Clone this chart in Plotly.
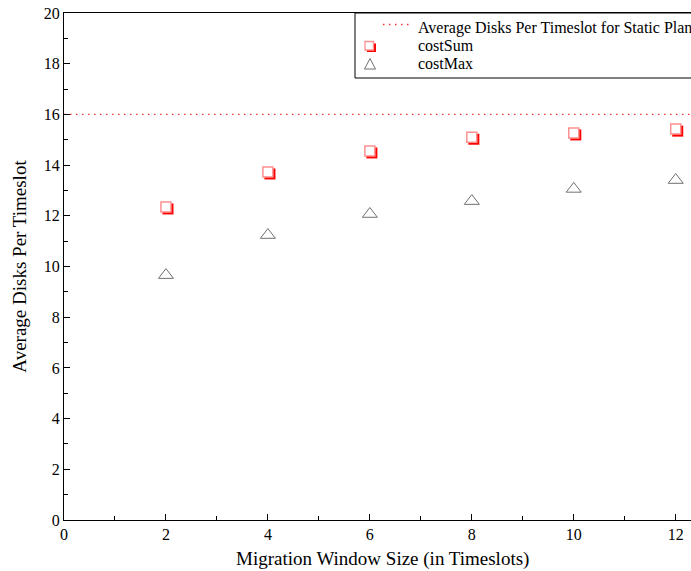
import plotly.graph_objects as go

window_sizes = [2, 4, 6, 8, 10, 12]
cost_sum = [12.35, 13.73, 14.56, 15.10, 15.27, 15.42]
cost_max = [9.66, 11.24, 12.07, 12.58, 13.06, 13.41]
static_plan = 16.0

series_names = ["Average Disks Per Timeslot for Static Plan", "costSum", "costMax"]

x_max = 12.3
font_family = "Liberation Serif"
dot_dash = "1.5px,4.5px"

W, H = 691, 571
M_L, M_R, M_T, M_B = 64, 0, 13, 51
PW, PH = W - M_L - M_R, H - M_T - M_B

# small offsets for the drop-shadow under each square marker (data units)
dx = 0.04
dy = 0.08


def px(x):
    """Horizontal pixel -> paper coordinate."""
    return (x - M_L) / PW


def py(y):
    """Vertical pixel (from top) -> paper coordinate."""
    return (H - M_B - y) / PH


fig = go.Figure()

fig.add_trace(go.Scatter(
    x=[0, x_max], y=[static_plan, static_plan], mode="lines",
    line=dict(color="#ff3030", width=1.3, dash=dot_dash),
    name=series_names[0], hoverinfo="skip",
))

# red shadow behind the costSum squares
fig.add_trace(go.Scatter(
    x=[v + dx for v in window_sizes], y=[v - dy for v in cost_sum], mode="markers",
    marker=dict(symbol="square", size=11, color="#ff0000", line=dict(width=0)),
    hoverinfo="skip",
))
fig.add_trace(go.Scatter(
    x=window_sizes, y=cost_sum, mode="markers",
    marker=dict(symbol="square", size=10, color="white",
                line=dict(color="#ff9090", width=1.5)),
    name=series_names[1],
))
fig.add_trace(go.Scatter(
    x=window_sizes, y=cost_max, mode="markers",
    marker=dict(symbol="triangle-up-open", size=13, color="#707070",
                line=dict(width=1)),
    name=series_names[2],
))

# legend box, drawn by hand so its rows sit tightly together
shapes = [
    dict(type="rect", xref="paper", yref="paper",
         x0=px(355), x1=px(W + 20), y0=py(78), y1=py(M_T),
         line=dict(color="black", width=1), fillcolor="white", layer="above"),
    dict(type="line", xref="paper", yref="paper",
         x0=px(383), x1=px(411), y0=py(24.5), y1=py(24.5),
         line=dict(color="#ff3030", width=1.3, dash=dot_dash), layer="above"),
    dict(type="rect", xref="paper", yref="paper",
         x0=px(367), x1=px(376), y0=py(52), y1=py(43.5),
         line=dict(width=0), fillcolor="#ff0000", layer="above"),
    dict(type="rect", xref="paper", yref="paper",
         x0=px(365), x1=px(373.5), y0=py(50), y1=py(41.5),
         line=dict(color="#ff9090", width=1.3), fillcolor="white", layer="above"),
    dict(type="path", xref="paper", yref="paper",
         path=(f"M {px(370)} {py(58.5)} L {px(364.5)} {py(69)} "
               f"L {px(375.5)} {py(69)} Z"),
         line=dict(color="#707070", width=1), fillcolor="rgba(0,0,0,0)", layer="above"),
]

annotations = []
for name, yc in zip(series_names, [27.5, 45.5, 63.5]):
    annotations.append(dict(
        x=px(416), y=py(yc), xref="paper", yref="paper",
        xanchor="left", yanchor="middle", text=name, showarrow=False,
        font=dict(family=font_family, size=16, color="black"),
    ))

annotations.append(dict(
    x=6.25, y=0, xref="x", yref="paper", yshift=-26, yanchor="top",
    text="Migration Window Size (in Timeslots)", showarrow=False,
    font=dict(family=font_family, size=19),
))

fig.update_layout(
    width=W, height=H,
    margin=dict(l=M_L, r=M_R, t=M_T, b=M_B),
    paper_bgcolor="white", plot_bgcolor="white",
    font=dict(family=font_family, size=15, color="black"),
    showlegend=False,
    shapes=shapes,
    annotations=annotations,
    xaxis=dict(
        range=[0, x_max], tickvals=[0, 2, 4, 6, 8, 10, 12],
        ticks="inside", ticklen=6, tickwidth=1, tickcolor="black",
        minor=dict(tickvals=[1, 3, 5, 7, 9, 11], ticks="inside", ticklen=4,
                   tickcolor="black", tickwidth=1),
        showline=True, linecolor="black", linewidth=1, mirror=True,
        showgrid=False, zeroline=False,
        tickfont=dict(size=16),
    ),
    yaxis=dict(
        range=[0, 20], tickvals=list(range(0, 21, 2)),
        ticks="inside", ticklen=6, tickwidth=1, tickcolor="black",
        minor=dict(tickvals=list(range(1, 20, 2)), ticks="inside", ticklen=4,
                   tickcolor="black", tickwidth=1),
        showline=True, linecolor="black", linewidth=1,
        showgrid=False, zeroline=False,
        tickfont=dict(size=16),
        title=dict(text="Average Disks Per Timeslot", font=dict(size=19), standoff=12),
    ),
)

fig.write_html("out.html")
